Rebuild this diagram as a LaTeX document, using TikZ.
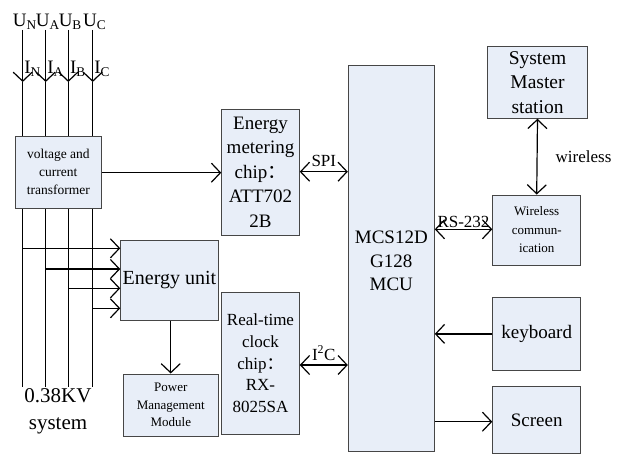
\documentclass[tikz,border=0pt]{standalone}
\usepackage{fontspec}
\setmainfont{Liberation Serif}
\newfontfamily\cjk{Noto Sans CJK SC}
\usetikzlibrary{arrows.meta}
\definecolor{boxfill}{RGB}{232,238,248}
\definecolor{boxline}{RGB}{70,70,70}
\tikzset{
  blk/.style={draw=boxline, fill=boxfill, line width=0.9pt, rectangle, inner sep=1pt, align=center},
  wire/.style={line width=1.2pt, black},
  arr/.style={wire, -{Straight Barb[length=9pt,width=19pt,line width=1.2pt]}},
  darr/.style={wire, {Straight Barb[length=9pt,width=19pt,line width=1.2pt]}-{Straight Barb[length=9pt,width=19pt,line width=1.2pt]}},
  lbl/.style={inner sep=0pt, font=\fontsize{17}{19}\selectfont},
}
\begin{document}
\begin{tikzpicture}
\useasboundingbox (0,0) rectangle (623pt,-454pt);
\begin{scope}[x=1pt,y=-1pt]
% phase lines
\foreach \n/\x in {N/22.7,A/45.7,B/68.3,C/92.7}{
  \coordinate (t\n) at (\x,30);
  \coordinate (m\n) at (\x,82);
  \coordinate (b\n) at (\x,386.7);
}
\foreach \n in {N,A,B,C}{
  \draw[arr] (t\n) -- (m\n);
  \draw[wire] (m\n) -- (b\n);
}
\foreach \n/\x in {N/22.7,A/45.7,B/68.3,C/92.7}{
  \node[lbl, font=\fontsize{19}{21}\selectfont, anchor=base] (u\n) at (\x+2,27) {U\textsubscript{\n}};
  \node[lbl, font=\fontsize{19}{21}\selectfont, anchor=base west] (i\n) at (\x+1.5,74) {I\textsubscript{\n}};
}
% boxes
\node[blk, minimum width=86.7pt, minimum height=72pt, font=\fontsize{13.5}{17.7}\selectfont] (vt) at (58.35,172) {voltage and\\current\\transformer};
\node[blk, minimum width=77.6pt, minimum height=125.7pt, font=\fontsize{19}{24.6}\selectfont] (em) at (260.5,172.2) {Energy\\metering\\chip{\cjk ：}\\ATT702\\2B};
\node[blk, minimum width=86pt, minimum height=386pt, font=\fontsize{19}{23.5}\selectfont] (mcu) at (391.3,258.7) {};
\node[lbl, font=\fontsize{19}{23.5}\selectfont, align=center] (mcut) at (391.3,261) {MCS12D\\G128\\MCU};
\node[blk, minimum width=97.6pt, minimum height=79.3pt, font=\fontsize{20}{24}\selectfont] (eu) at (169.5,280.4) {Energy unit};
\node[blk, minimum width=95pt, minimum height=62.7pt, font=\fontsize{13}{17.5}\selectfont] (pm) at (170.8,405.3) {Power\\Management\\Module};
\node[blk, minimum width=77.6pt, minimum height=141.7pt, font=\fontsize{17}{21.7}\selectfont] (rtc) at (260.5,363.2) {Real-time\\clock\\chip{\cjk ：}\\RX-\\8025SA};
\node[blk, minimum width=100.4pt, minimum height=71.6pt, font=\fontsize{19.5}{24.7}\selectfont] (sms) at (537.5,82.5) {System\\Master\\station};
\node[blk, minimum width=88pt, minimum height=70pt, font=\fontsize{13}{18.5}\selectfont] (wc) at (536.7,230) {Wireless\\commun-\\ication};
\node[blk, minimum width=88pt, minimum height=72.3pt, font=\fontsize{19}{23}\selectfont] (kb) at (536.7,333.9) {keyboard};
\node[blk, minimum width=88pt, minimum height=67.3pt, font=\fontsize{19}{23}\selectfont] (sc) at (536.7,419.8) {Screen};
% connectors
\draw[arr] (vt.east |- 0,172.7) -- (em.west |- 0,172.7);
\draw[darr] (em.east |- 0,171.7) -- (mcu.west |- 0,171.7) node[lbl, midway, above=4pt] (spi) {SPI};
\draw[darr] (rtc.east |- 0,365) -- (mcu.west |- 0,365) node[lbl, midway, above=4pt] (i2c) {I\textsuperscript{2}C};
\draw[darr] (mcu.east |- 0,229.3) -- (wc.west |- 0,229.3) node[lbl, midway, above=1pt] (rs) {RS-232};
\draw[darr] (sms.south) -- (wc.north) node[lbl, midway, right=18pt] (wl) {wireless};
\draw[arr] (kb.west) -- (mcu.east |- kb.west);
\draw[arr] (mcu.east |- 0,421.7) -- (sc.west |- 0,421.7);
\draw[arr] (eu.south -| 170.7,0) -- (pm.north -| 170.7,0);
% inputs to energy unit
\foreach \n/\x/\y in {N/22.7/248.3,A/45.7/269,B/68.3/288.3,C/92.7/308.3}{
  \coordinate (h\n) at (\x,\y);
  \draw[arr] (h\n) -- (h\n -| eu.west);
}
\node[lbl, font=\fontsize{21}{27}\selectfont, align=center] (sys) at (58,411) {0.38KV\\system};
\end{scope}
\end{tikzpicture}
\end{document}
